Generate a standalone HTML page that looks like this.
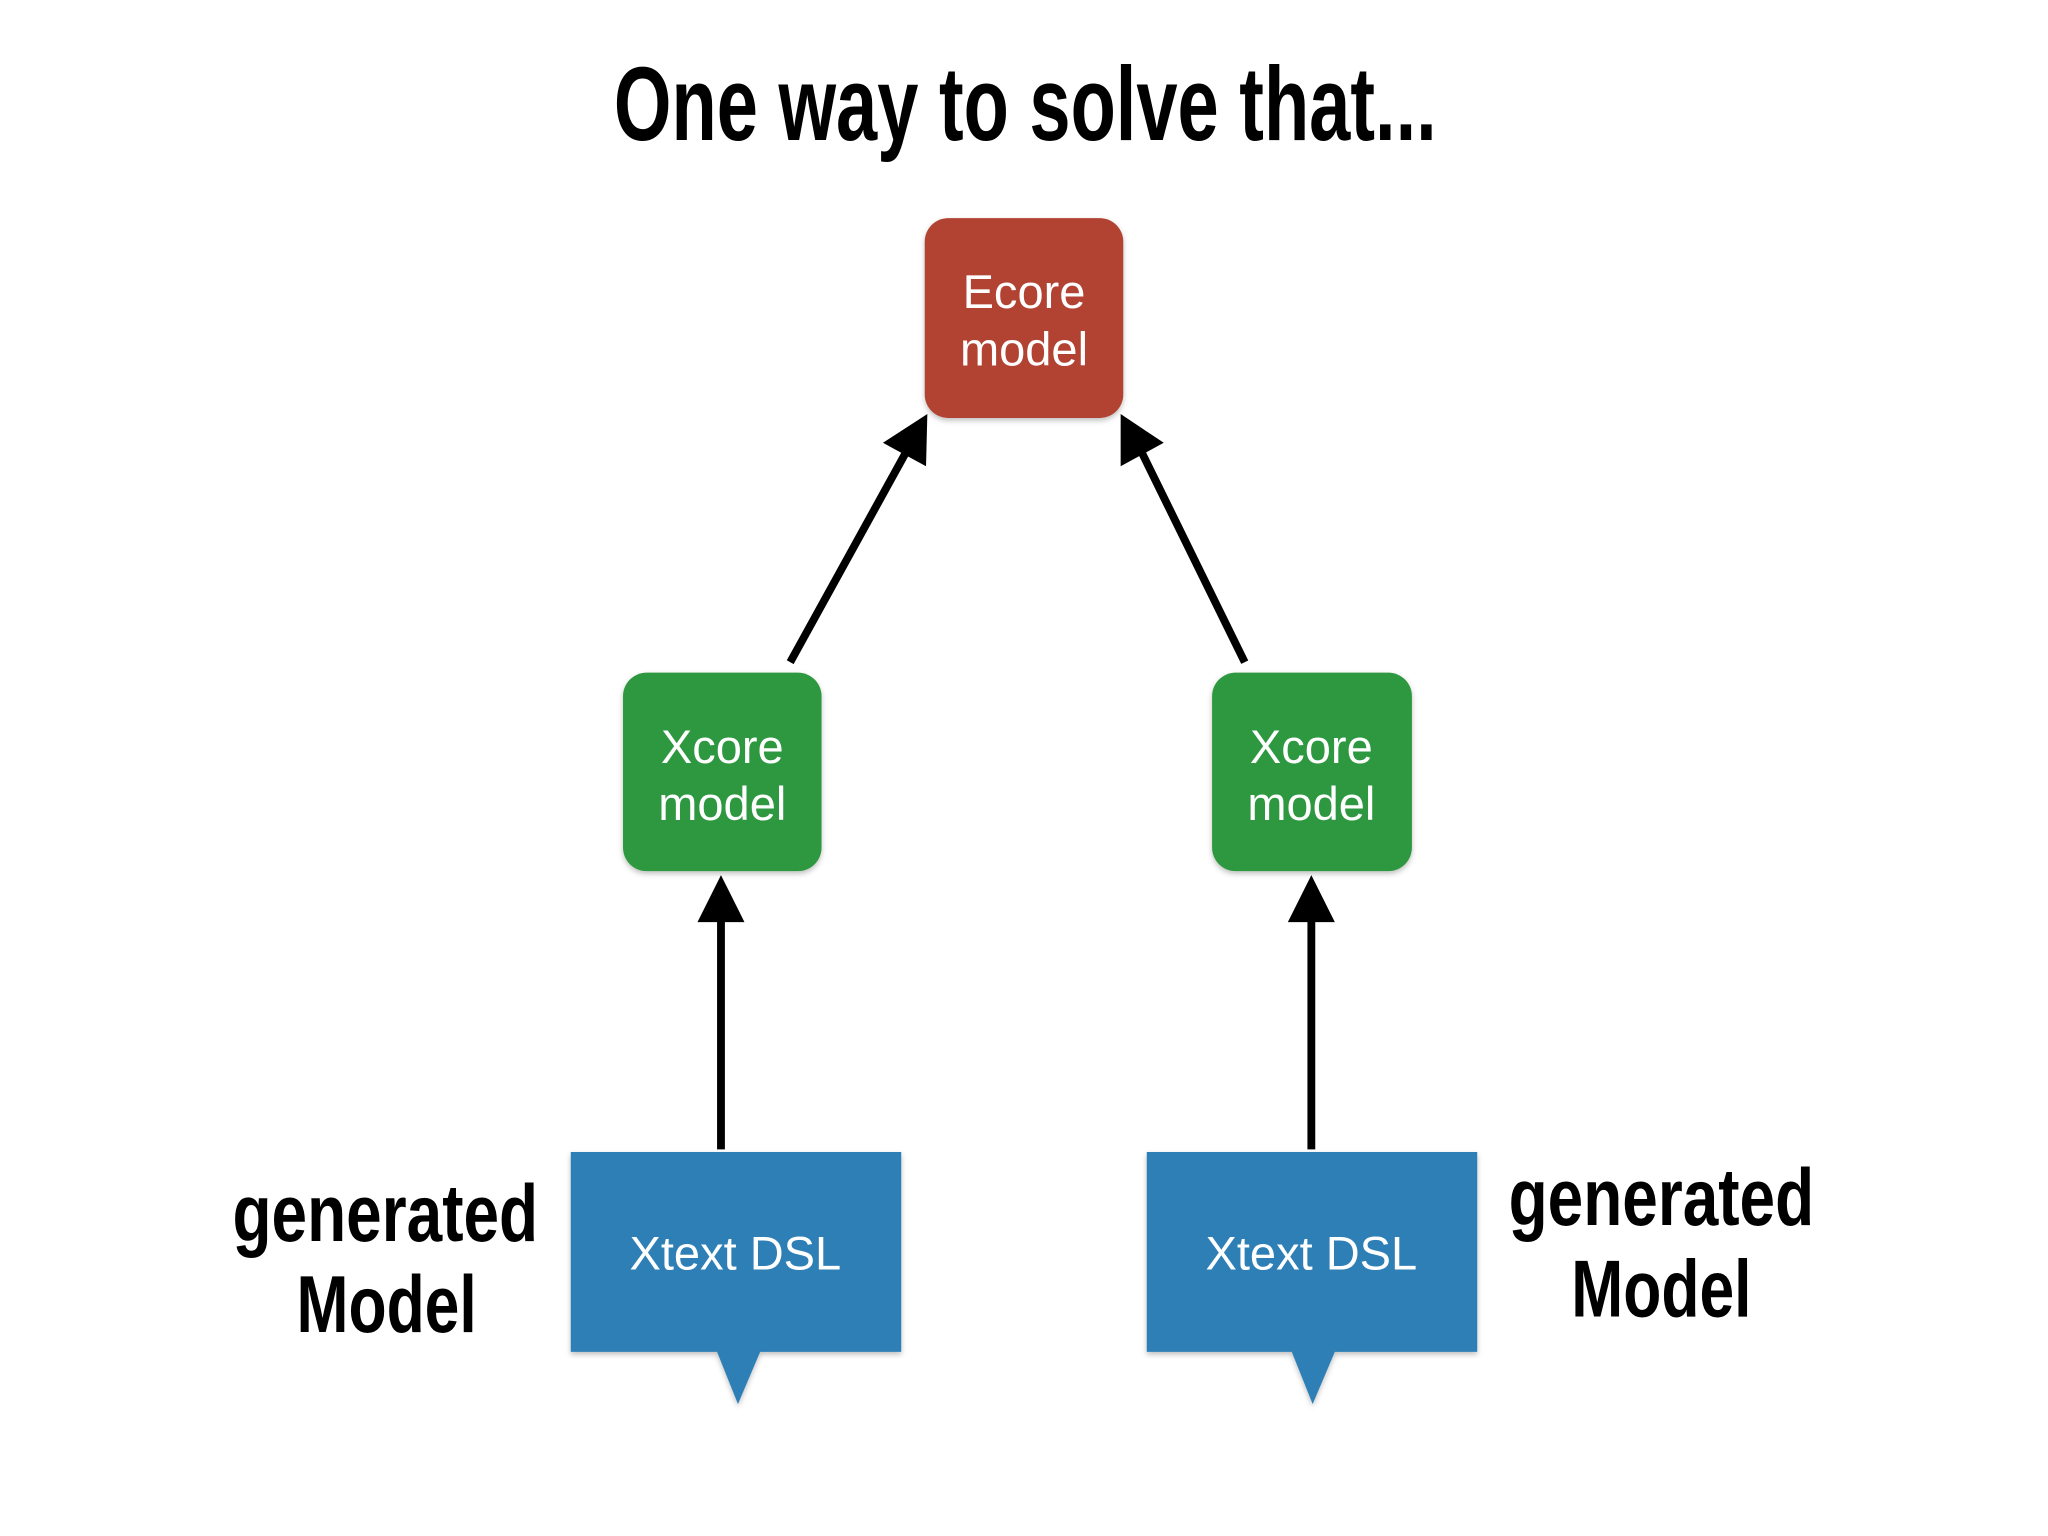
<!DOCTYPE html>
<html><head><meta charset="utf-8"><style>
html,body{margin:0;padding:0;background:#fff;}
svg{display:block;}
</style></head><body>
<svg width="2048" height="1536" viewBox="0 0 1568 1176" xmlns="http://www.w3.org/2000/svg">
<defs>
<filter id="sh" x="-20%" y="-20%" width="140%" height="140%"><feDropShadow dx="0" dy="2" stdDeviation="2" flood-opacity="0.25"/></filter>
</defs>
<rect width="1568" height="1176" fill="#fff"/>
<text x="470" y="107" font-family="Liberation Sans, sans-serif" font-weight="bold" font-size="80" textLength="630" lengthAdjust="spacingAndGlyphs" fill="#000">One way to solve that...</text>

<!-- arrows -->
<g stroke="#000" stroke-width="6" fill="none">
<line x1="552" y1="880" x2="552" y2="700"/>
<line x1="1004" y1="880" x2="1004" y2="700"/>
<line x1="605" y1="507" x2="696" y2="342"/>
<line x1="953" y1="507" x2="872" y2="342"/>
</g>
<g fill="#000">
<polygon points="552,670 534,706 570,706"/>
<polygon points="1004,670 986,706 1022,706"/>
<polygon points="710,317 676,339 709,357"/>
<polygon points="858,317 858,357 891,339"/>
</g>

<!-- nodes -->
<g filter="url(#sh)">
<rect x="708" y="167" width="152" height="153" rx="18" fill="#b24233"/>
<rect x="477" y="515" width="152" height="152" rx="18" fill="#2f983f"/>
<rect x="928" y="515" width="153" height="152" rx="18" fill="#2f983f"/>
<path d="M437,882 H690 V1035 H582 L565,1075 L549,1035 H437 Z" fill="#2e7fb6"/>
<path d="M878,882 H1131 V1035 H1022 L1005,1075 L989,1035 H878 Z" fill="#2e7fb6"/>
</g>
<g font-family="Liberation Sans, sans-serif" font-size="36" fill="#fff" text-anchor="middle">
<text x="784" y="236">Ecore</text>
<text x="784" y="280">model</text>
<text x="553" y="584">Xcore</text>
<text x="553" y="628">model</text>
<text x="1004" y="584">Xcore</text>
<text x="1004" y="628">model</text>
<text x="563" y="972">Xtext DSL</text>
<text x="1004" y="972">Xtext DSL</text>
</g>
<g font-family="Liberation Sans, sans-serif" font-weight="bold" font-size="62" fill="#000">
<text x="178" y="950" textLength="234" lengthAdjust="spacingAndGlyphs">generated</text>
<text x="227" y="1020" textLength="138" lengthAdjust="spacingAndGlyphs">Model</text>
<text x="1155" y="938" textLength="234" lengthAdjust="spacingAndGlyphs">generated</text>
<text x="1203" y="1008" textLength="138" lengthAdjust="spacingAndGlyphs">Model</text>
</g>
</svg>
</body></html>
